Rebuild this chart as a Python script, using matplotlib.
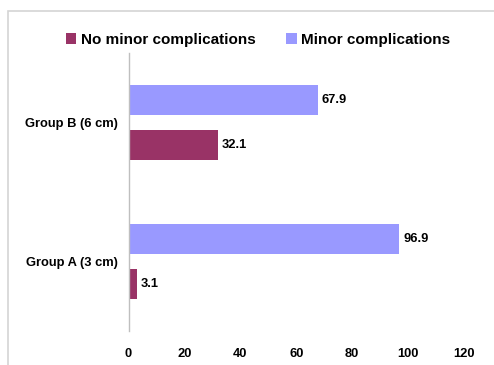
import matplotlib.pyplot as plt
from matplotlib.patches import Rectangle

# bar chart data
groups = ['Group A (3 cm)', 'Group B (6 cm)']
no_minor = [3.1, 32.1]
minor = [96.9, 67.9]
xticks = [0, 20, 40, 60, 80, 100, 120]

plt.rcParams['font.family'] = ['Liberation Sans', 'DejaVu Sans']
plt.rcParams['font.weight'] = 'bold'

W, H = 494, 365
fig = plt.figure(figsize=(W / 100, H / 100), dpi=100)

# outer frame (left/top edges visible, rest runs off the canvas)
fig.patches.append(Rectangle((8 / W, -0.1), 1.2, 1 - 11 / H + 0.1,
                             transform=fig.transFigure, fill=False,
                             edgecolor='#d4d4d4', linewidth=1.2))

left, right, top, bottom = 128.5, 464, 53, 331
ax = fig.add_axes([left / W, 1 - bottom / H, (right - left) / W, (bottom - top) / H])

maroon = '#993366'
lavender = '#9999ff'
h = 0.216
off = 0.160
ypos = list(range(len(groups)))
small = 9.3

b1 = ax.barh([y - off for y in ypos], no_minor, height=h, color=maroon,
             label='No minor complications')
b2 = ax.barh([y + off for y in ypos], minor, height=h, color=lavender,
             label='Minor complications')

for bars, vals in ((b1, no_minor), (b2, minor)):
    for bar, v in zip(bars, vals):
        ax.text(v + 1.3, bar.get_y() + bar.get_height() / 2, f'{v:.1f}',
                va='center', ha='left', fontsize=small, fontweight='bold')

ax.set_xlim(0, 120)
ax.set_ylim(-0.5, 1.5)
ax.set_yticks(ypos)
ax.set_yticklabels(groups, fontsize=small, fontweight='bold')
ax.set_xticks(xticks)
ax.set_xticklabels([str(t) for t in xticks], fontsize=small, fontweight='bold')
ax.tick_params(axis='both', length=0)
ax.tick_params(axis='x', pad=12)
ax.tick_params(axis='y', pad=7.5)
for s in ('top', 'right', 'bottom'):
    ax.spines[s].set_visible(False)
ax.spines['left'].set_color('#bfbfbf')
ax.spines['left'].set_linewidth(1)

fig.legend(handles=[b1, b2], loc='center', bbox_to_anchor=(258 / W, 1 - 40 / H),
           ncol=2, frameon=False, prop={'weight': 'bold', 'size': 11},
           handlelength=0.7, handleheight=0.7, handletextpad=0.3, columnspacing=2.0)

fig.savefig('out.png', dpi=100)
